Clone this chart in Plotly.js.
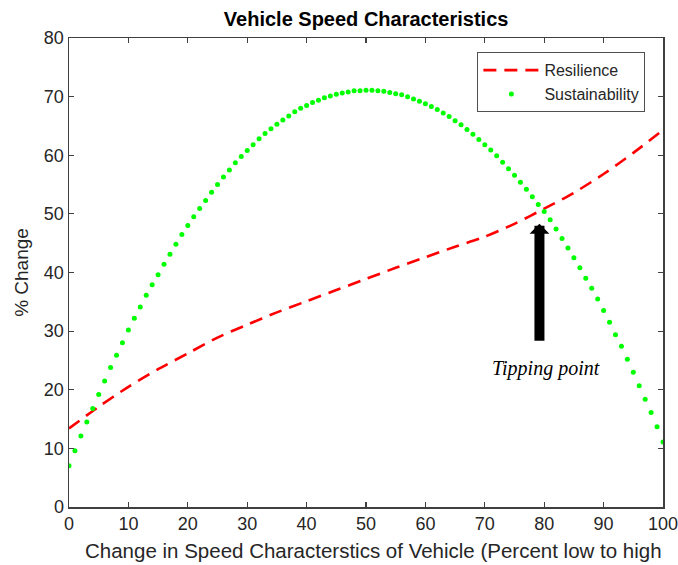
<!DOCTYPE html>
<html>
<head>
<meta charset="utf-8">
<script src="https://cdn.plot.ly/plotly-3.0.1.min.js"></script>
<style>html,body{margin:0;padding:0;background:#fff;}#chart{width:678px;height:565px;}</style>
</head>
<body>
<div id="chart"></div>
<script>
// Sustainability: one reading per 1% step, 0..100
const sustainX = Array.from({length: 101}, (_, i) => i);
const sustainability = [
  7.05, 9.6, 12.1, 14.5, 16.8, 19.2, 21.5, 23.8, 25.9, 28.0,
  30.2, 32.2, 34.1, 36.1, 37.9, 39.6, 41.4, 43.1, 44.8, 46.5,
  48.0, 49.5, 50.9, 52.3, 53.7, 55.0, 56.3, 57.5, 58.7, 59.8,
  60.8, 61.8, 62.8, 63.7, 64.5, 65.3, 66.0, 66.7, 67.4, 68.0,
  68.5, 69.0, 69.4, 69.8, 70.1, 70.4, 70.6, 70.8, 71.0, 71.0,
  71.1, 71.1, 71.0, 70.9, 70.7, 70.5, 70.3, 70.0, 69.6, 69.2,
  68.8, 68.3, 67.8, 67.2, 66.6, 65.9, 65.2, 64.4, 63.6, 62.7,
  61.8, 60.9, 59.9, 58.8, 57.7, 56.6, 55.4, 54.2, 52.9, 51.6,
  50.4, 49.0, 47.4, 45.8, 44.2, 42.5, 40.8, 39.0, 37.3, 35.5,
  33.5, 31.5, 29.4, 27.4, 25.2, 23.0, 20.7, 18.4, 16.1, 13.7,
  11.1
];
// Resilience: readings every 5%
const resilX = [0,5,10,15,20,25,30,35,40,45,50,55,60,65,70,75,80,85,90,95,100];
const resilience = [13.4, 17.1, 20.5, 23.5, 26.2, 28.9, 31.1, 33.2, 35.1, 37.0,
  38.9, 40.8, 42.6, 44.4, 46.1, 48.3, 50.9, 53.6, 56.8, 60.4, 64.3];

const seriesNames = ['Resilience', 'Sustainability'];
const xTicks = [0,10,20,30,40,50,60,70,80,90,100];
const yTicks = [0,10,20,30,40,50,60,70,80];
const tipX = 79.2, tipY = 48.3, tailY = 28.1;
const tipLabel = 'Tipping point';
const xTitle = 'Change in Speed Characterstics of Vehicle (Percent low to high';

const axisColor = '#404040';
const tickFont = {family: 'Liberation Sans, Arial, sans-serif', size: 18, color: '#262626'};

const traces = [
  {
    x: resilX, y: resilience, name: seriesNames[0], type: 'scatter', mode: 'lines',
    line: {color: '#ff0000', width: 2.6, dash: '13px,8px', shape: 'spline', smoothing: 0.8}
  },
  {
    x: sustainX, y: sustainability, name: seriesNames[1], type: 'scatter', mode: 'markers',
    marker: {color: '#00ff00', size: 5}
  }
];

const layout = {
  width: 678, height: 565,
  margin: {l: 69, r: 15, t: 38, b: 58},
  paper_bgcolor: '#ffffff', plot_bgcolor: '#ffffff',
  showlegend: true,
  title: {text: '<b>Vehicle Speed Characteristics</b>', x: 0.54, xanchor: 'center', y: 0.978, yanchor: 'top',
    font: {family: 'Liberation Sans, Arial, sans-serif', size: 20, color: '#000000'}},
  xaxis: {
    range: [0, 100], tickvals: xTicks, ticktext: xTicks.map(String),
    showgrid: false, zeroline: false, showline: true, linecolor: axisColor, linewidth: 1.5,
    mirror: 'ticks', ticks: 'inside', ticklen: 5, tickcolor: axisColor, tickwidth: 1.2,
    tickfont: tickFont, ticklabeloverflow: 'allow', automargin: false
  },
  yaxis: {
    range: [0, 80], tickvals: yTicks, ticktext: yTicks.map(String),
    showgrid: false, zeroline: false, showline: true, linecolor: axisColor, linewidth: 1.5,
    mirror: 'ticks', ticks: 'inside', ticklen: 5, tickcolor: axisColor, tickwidth: 1.2,
    tickfont: tickFont, ticklabeloverflow: 'allow', automargin: false,
    title: {text: '% Change', standoff: 10,
      font: {family: 'Liberation Sans, Arial, sans-serif', size: 19, color: '#262626'}}
  },
  legend: {
    x: 0.97, xanchor: 'right', y: 0.97, yanchor: 'top',
    bgcolor: '#ffffff', bordercolor: '#505050', borderwidth: 1.2,
    font: {family: 'Liberation Sans, Arial, sans-serif', size: 16, color: '#262626'},
    tracegroupgap: 0, itemwidth: 56
  },
  annotations: [
    {
      x: tipX, y: tipY, ax: tipX, ay: tailY, axref: 'x', ayref: 'y', xref: 'x', yref: 'y',
      showarrow: true, arrowhead: 1, arrowsize: 0.33, arrowwidth: 10, arrowcolor: '#000000', text: ''
    },
    {
      x: 80.3, y: 23.7, xref: 'x', yref: 'y', showarrow: false, text: tipLabel,
      font: {family: 'Liberation Serif, Times New Roman, serif', size: 20, color: '#000000', style: 'italic'}
    },
    {
      x: 0.5126, y: -0.092, xref: 'paper', yref: 'paper', xanchor: 'center', yanchor: 'middle',
      showarrow: false, text: xTitle,
      font: {family: 'Liberation Sans, Arial, sans-serif', size: 20.5, color: '#262626'}
    }
  ]
};

Plotly.newPlot('chart', traces, layout, {staticPlot: true, displayModeBar: false});
</script>
</body>
</html>
